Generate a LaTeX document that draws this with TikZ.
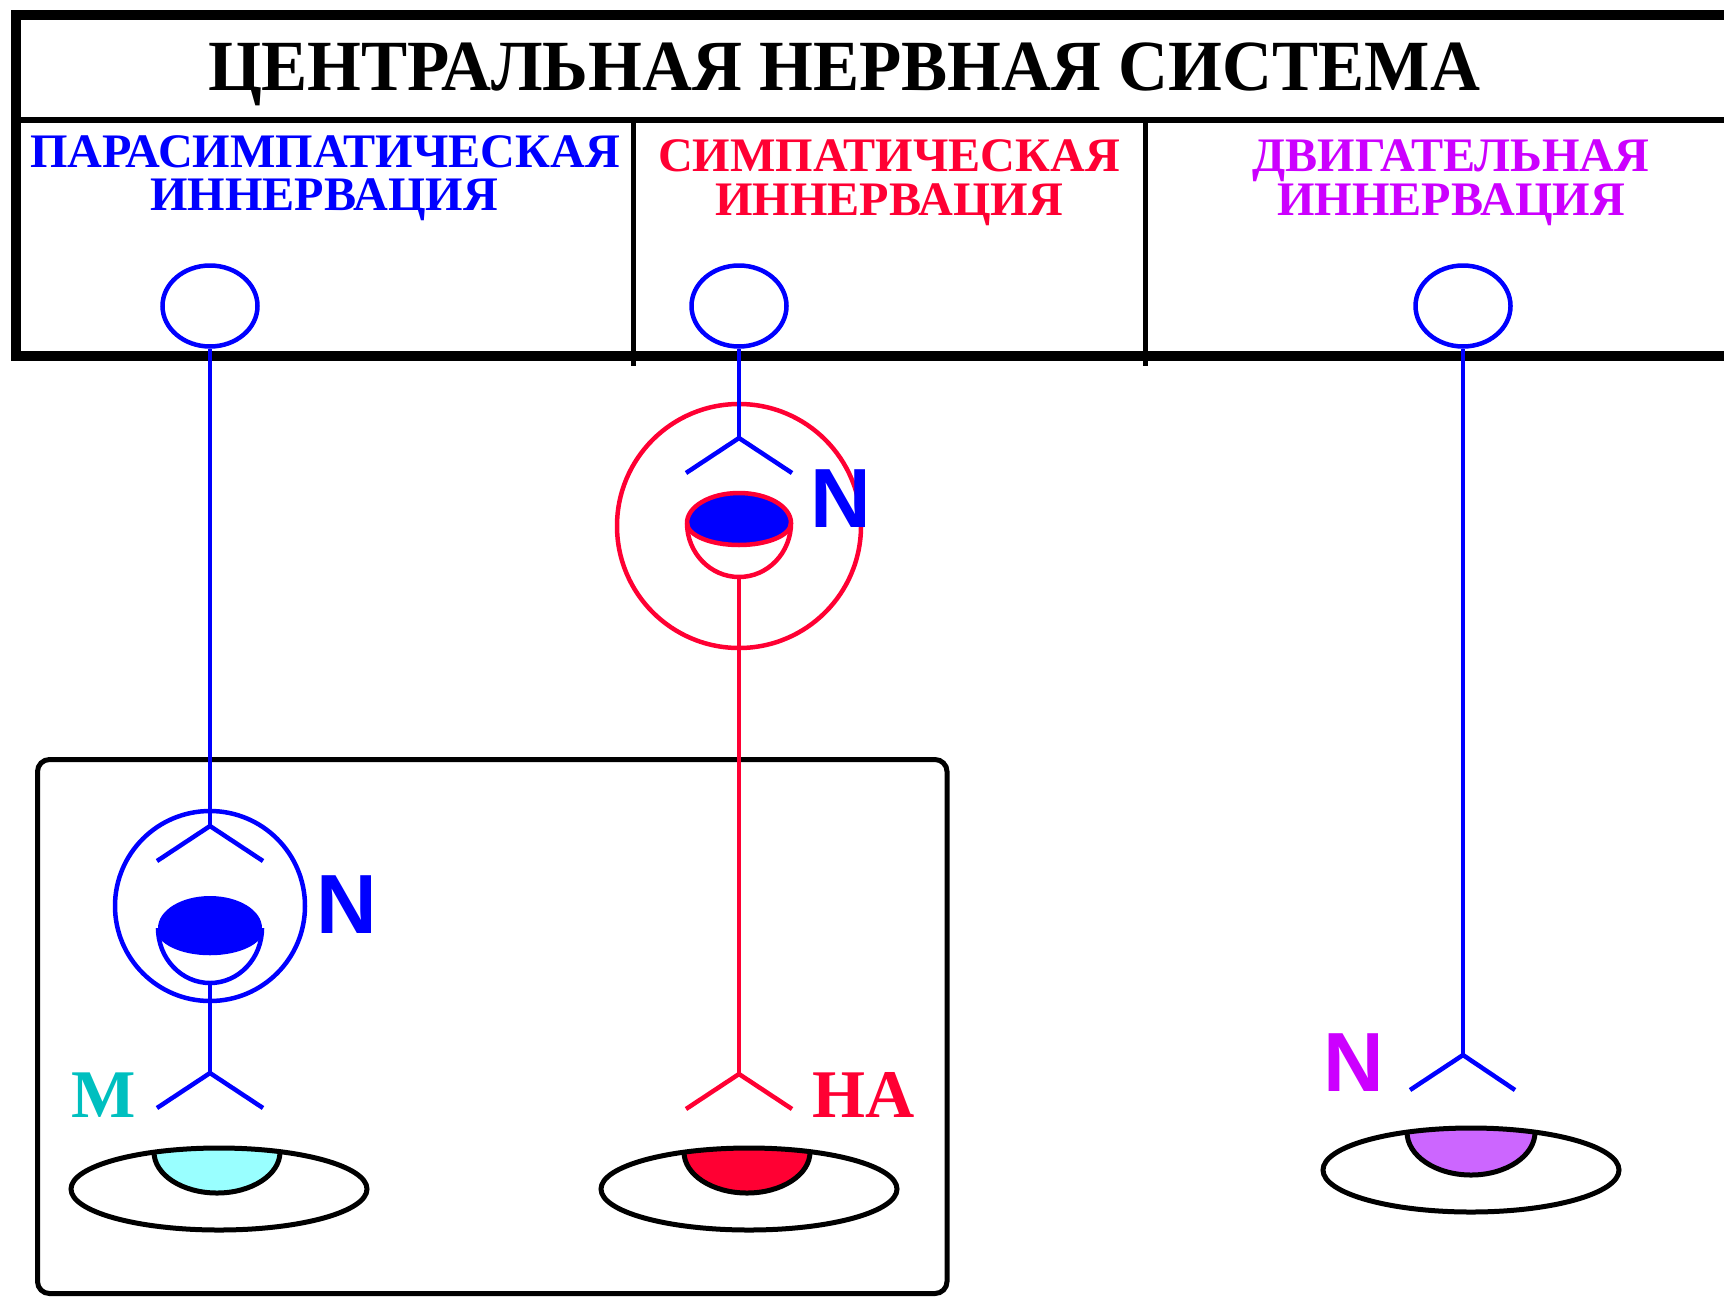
\documentclass[tikz,border=0pt]{standalone}
\usepackage{fontspec}
\setmainfont{Liberation Serif}
\newfontfamily\labelsans{Liberation Sans}
\usepackage{tikz}
\usetikzlibrary{shapes.geometric,calc,positioning}
\definecolor{parablue}{RGB}{0,0,255}
\definecolor{symred}{RGB}{255,0,51}
\definecolor{motviolet}{RGB}{204,0,255}
\definecolor{mteal}{RGB}{0,191,191}
\definecolor{mcyan}{RGB}{153,255,255}
\definecolor{motlilac}{RGB}{204,102,255}
\tikzset{
  nerve/.style={line width=0.045cm},
  soma/.style={ellipse, draw=parablue, line width=0.045cm, minimum width=0.95cm, minimum height=0.81cm, inner sep=0pt},
  ganglion/.style={circle, line width=0.045cm, inner sep=0pt},
  effector/.style={ellipse, draw=black, line width=0.05cm, minimum width=2.96cm, minimum height=0.82cm, inner sep=0pt},
  head/.style={font={\fontsize{13.7}{14}\selectfont\bfseries}, anchor=base, inner sep=0pt},
  nlabel/.style={font={\labelsans\fontsize{23.9}{24}\selectfont\bfseries}, anchor=base, inner sep=0pt},
  tlabel/.style={font={\fontsize{19.4}{20}\selectfont\bfseries}, anchor=base, inner sep=0pt},
}
\begin{document}
\begin{tikzpicture}
\useasboundingbox (0,0) rectangle (17.24,-12.96);

\draw[line width=0.10cm] (17.60,-0.15) -- (0.16,-0.15) -- (0.16,-3.56) -- (17.60,-3.56);
\draw[line width=0.06cm] (0.16,-1.20) -- (17.60,-1.20);
\draw[line width=0.05cm] (6.33,-1.20) -- (6.33,-3.66);
\draw[line width=0.05cm] (11.45,-1.20) -- (11.45,-3.66);

\node[font={\fontsize{20.5}{24}\selectfont\bfseries}, anchor=base, inner sep=0pt, xscale=0.96] (cns) at (8.44,-0.90) {ЦЕНТРАЛЬНАЯ НЕРВНАЯ СИСТЕМА};
\node[head, parablue] (para1) at (3.25,-1.67) {ПАРАСИМПАТИЧЕСКАЯ};
\node[head, parablue] (para2) at (3.24,-2.10) {ИННЕРВАЦИЯ};
\node[head, symred] (symp1) at (8.89,-1.71) {СИМПАТИЧЕСКАЯ};
\node[head, symred] (symp2) at (8.89,-2.15) {ИННЕРВАЦИЯ};
\node[head, motviolet] (mot1) at (14.51,-1.71) {ДВИГАТЕЛЬНАЯ};
\node[head, motviolet] (mot2) at (14.51,-2.15) {ИННЕРВАЦИЯ};

\draw[line width=0.05cm, rounded corners=0.12cm] (0.375,-7.595) rectangle (9.47,-12.935);

\node[soma] (pcns) at (2.10,-3.06) {};
\node[soma] (scns) at (7.39,-3.06) {};
\node[soma] (mcns) at (14.63,-3.06) {};

\node[ganglion, draw=parablue, minimum size=1.90cm] (pg) at (2.10,-9.06) {};
\node[ganglion, draw=symred, minimum size=2.44cm] (sg) at (7.39,-5.26) {};

\coordinate (pf1) at (2.10,-8.26);
\coordinate (pf1l) at ($(pf1)+(-0.53,-0.35)$);
\coordinate (pf1r) at ($(pf1)+(0.53,-0.35)$);
\coordinate (pcup) at (2.10,-9.83);
\coordinate (pf2) at (2.10,-10.73);
\coordinate (pf2l) at ($(pf2)+(-0.53,-0.35)$);
\coordinate (pf2r) at ($(pf2)+(0.53,-0.35)$);
\draw[nerve, parablue] (pcns.south) -- (pf1);
\draw[nerve, parablue] (pf1l) -- (pf1) -- (pf1r);
\fill[parablue] (1.58,-9.28) arc (180:0:0.52 and 0.32) arc (0:-180:0.52 and 0.25) -- cycle;
\draw[nerve, parablue] (1.58,-9.28) arc (180:360:0.52 and 0.25);
\draw[nerve, parablue] (1.58,-9.28) arc (180:360:0.52 and 0.55);
\draw[nerve, parablue] (pcup) -- (pf2);
\draw[nerve, parablue] (pf2l) -- (pf2) -- (pf2r);

\coordinate (sf1) at (7.39,-4.38);
\coordinate (sf1l) at ($(sf1)+(-0.53,-0.35)$);
\coordinate (sf1r) at ($(sf1)+(0.53,-0.35)$);
\coordinate (scup) at (7.39,-5.77);
\coordinate (sf2) at (7.39,-10.74);
\coordinate (sf2l) at ($(sf2)+(-0.53,-0.35)$);
\coordinate (sf2r) at ($(sf2)+(0.53,-0.35)$);
\draw[nerve, parablue] (scns.south) -- (sf1);
\draw[nerve, parablue] (sf1l) -- (sf1) -- (sf1r);
\fill[parablue] (6.87,-5.23) arc (180:0:0.52 and 0.30) arc (0:-180:0.52 and 0.22) -- cycle;
\draw[nerve, symred] (6.87,-5.23) arc (180:0:0.52 and 0.30) arc (0:-180:0.52 and 0.22);
\draw[nerve, symred] (6.87,-5.23) arc (180:360:0.52 and 0.54);
\draw[nerve, symred] (scup) -- (sf2);
\draw[nerve, symred] (sf2l) -- (sf2) -- (sf2r);

\coordinate (mf) at (14.63,-10.55);
\coordinate (mfl) at ($(mf)+(-0.53,-0.35)$);
\coordinate (mfr) at ($(mf)+(0.52,-0.35)$);
\draw[nerve, parablue] (mcns.south) -- (mf);
\draw[nerve, parablue] (mfl) -- (mf) -- (mfr);

\begin{scope}
  \clip (2.19,-11.89) ellipse (1.48 and 0.41);
  \fill[mcyan] (2.17,-11.52) ellipse (0.63 and 0.41);
\end{scope}
\draw[line width=0.05cm] (1.54,-11.52) arc (180:360:0.63 and 0.41);
\node[effector] (rp) at (2.19,-11.89) {};

\begin{scope}
  \clip (7.49,-11.89) ellipse (1.48 and 0.41);
  \fill[symred] (7.47,-11.52) ellipse (0.63 and 0.41);
\end{scope}
\draw[line width=0.05cm] (6.84,-11.52) arc (180:360:0.63 and 0.41);
\node[effector] (rs) at (7.49,-11.89) {};

\begin{scope}
  \clip (14.71,-11.70) ellipse (1.48 and 0.42);
  \fill[motlilac] (14.71,-11.32) ellipse (0.64 and 0.43);
\end{scope}
\draw[line width=0.05cm] (14.07,-11.32) arc (180:360:0.64 and 0.43);
\node[effector, minimum height=0.84cm] (rm) at (14.71,-11.70) {};

\node[nlabel, parablue] (pn) at (3.47,-9.33) {N};
\node[nlabel, parablue] (sn) at (8.41,-5.27) {N};
\node[nlabel, motviolet] (mn) at (13.54,-10.91) {N};
\node[tlabel, mteal] (mlab) at (1.04,-11.17) {М};
\node[tlabel, symred] (salab) at (8.64,-11.17) {НА};
\end{tikzpicture}
\end{document}
